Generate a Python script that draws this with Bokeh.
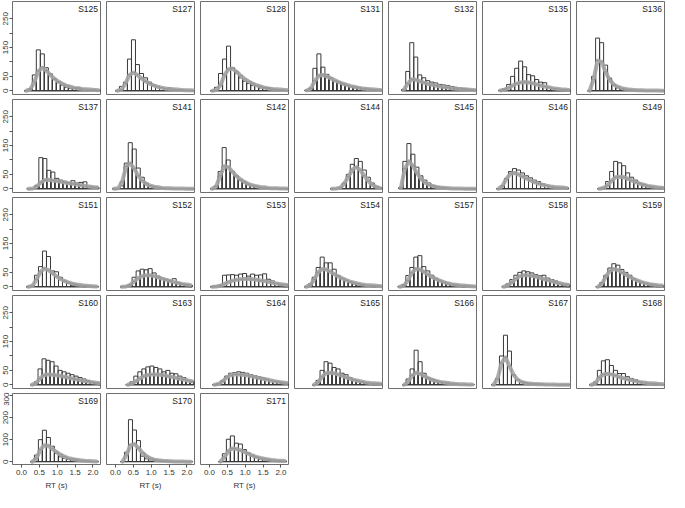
from bokeh.plotting import figure
from bokeh.layouts import gridplot
from bokeh.models import Range1d, FixedTicker, Label, NumeralTickFormatter
from bokeh.embed import file_html
from bokeh.resources import INLINE

# ---------------- data ----------------
SUBJECTS = ["S125", "S127", "S128", "S131", "S132", "S135", "S136",
            "S137", "S141", "S142", "S144", "S145", "S146", "S149",
            "S151", "S152", "S153", "S154", "S157", "S158", "S159",
            "S160", "S163", "S164", "S165", "S166", "S167", "S168",
            "S169", "S170", "S171"]

BIN_WIDTH = 0.112

STARTS = [0.08, 0.00, 0.03, 0.04, 0.12, 0.20, 0.06,
          0.15, -0.09, 0.02, 0.75, 0.04, 0.14, 0.34,
          0.14, 0.13, 0.03, 0.02, 0.01, 0.29, 0.29,
          0.24, 0.29, 0.09, 0.24, 0.13, 0.00, 0.11,
          0.25, 0.14, 0.25]

OBS_S125 = [0, 8, 55, 142, 128, 80, 59, 39, 28, 19, 12, 8, 8, 12, 6, 4, 3, 5, 2]
PRED_S125 = [0, 5, 30, 68, 80, 70, 55, 42, 32, 24, 18, 14, 10, 8, 6, 5, 4, 3, 2]
OBS_S127 = [0, 15, 30, 110, 177, 91, 60, 45, 30, 20, 15, 10, 8, 10, 5, 4, 3, 2, 1, 0]
PRED_S127 = [0, 4, 25, 55, 63, 55, 43, 33, 25, 19, 14, 11, 8, 6, 5, 4, 3, 2, 2, 1]
OBS_S128 = [0, 12, 60, 110, 155, 80, 62, 45, 33, 25, 18, 17, 10, 8, 11, 5, 3, 2, 1, 0]
PRED_S128 = [0, 3, 20, 55, 75, 77, 66, 53, 41, 32, 25, 19, 15, 11, 8, 6, 5, 4, 3, 2]
OBS_S131 = [3, 10, 78, 128, 82, 57, 45, 35, 28, 22, 18, 14, 10, 12, 8, 9, 5, 3, 2, 1]
PRED_S131 = [1, 8, 35, 52, 55, 50, 43, 36, 30, 25, 20, 16, 13, 10, 8, 6, 5, 4, 3, 2]
OBS_S132 = [5, 67, 167, 117, 55, 45, 35, 30, 27, 22, 20, 18, 15, 12, 10, 8, 6, 3, 2]
PRED_S132 = [3, 25, 40, 38, 33, 28, 24, 21, 18, 15, 13, 11, 9, 7, 6, 5, 4, 3, 2]
OBS_S135 = [2, 8, 22, 50, 78, 103, 83, 56, 52, 39, 30, 28, 0, 0, 0, 0, 0, 0]
PRED_S135 = [1, 4, 10, 18, 25, 29, 30, 29, 26, 22, 18, 15, 12, 9, 7, 5, 4, 3]
OBS_S136 = [0, 50, 183, 167, 89, 44, 20, 10, 5, 3, 2, 1, 0, 0, 0, 0, 0, 0, 0, 0]
PRED_S136 = [0, 40, 105, 100, 65, 38, 22, 14, 9, 6, 4, 3, 2, 2, 1, 1, 1, 1, 0, 0]

OBS_S137 = [0, 0, 12, 108, 105, 64, 58, 36, 30, 26, 22, 28, 20, 22, 24, 8, 5, 2]
PRED_S137 = [0, 1, 8, 22, 30, 31, 29, 27, 24, 22, 19, 17, 15, 12, 10, 8, 6, 5]
OBS_S141 = [0, 0, 10, 89, 160, 138, 72, 40, 20, 10, 6, 3, 2, 1, 0, 0, 0, 0, 0, 0, 0]
PRED_S141 = [0, 2, 25, 78, 88, 70, 45, 28, 17, 11, 7, 5, 3, 2, 2, 1, 1, 1, 0, 0, 0]
OBS_S142 = [0, 10, 60, 143, 100, 60, 45, 30, 22, 15, 10, 8, 5, 3, 2, 1, 0, 0, 0, 0]
PRED_S142 = [0, 8, 45, 78, 75, 60, 45, 33, 24, 17, 12, 9, 6, 5, 3, 2, 2, 1, 1, 0]
OBS_S144 = [0, 0, 5, 20, 50, 85, 105, 95, 65, 40, 20, 8, 3]
PRED_S144 = [0, 1, 4, 18, 42, 66, 75, 65, 45, 27, 14, 6, 2]
OBS_S145 = [5, 95, 157, 120, 75, 45, 30, 20, 12, 8, 5, 3, 2, 1, 0, 0, 0, 0, 0, 0]
PRED_S145 = [3, 70, 95, 80, 55, 35, 22, 14, 9, 6, 4, 3, 2, 1, 1, 1, 0, 0, 0, 0]
OBS_S146 = [0, 10, 35, 60, 70, 65, 55, 45, 38, 30, 25, 18, 12, 8, 5, 3, 2, 0]
PRED_S146 = [0, 10, 35, 52, 55, 50, 43, 36, 29, 23, 18, 14, 11, 8, 6, 5, 4, 3]
OBS_S149 = [0, 5, 25, 60, 95, 90, 80, 55, 40, 30, 20, 15, 10, 5, 2, 0, 0]
PRED_S149 = [0, 3, 12, 28, 40, 42, 40, 35, 29, 23, 18, 14, 10, 8, 6, 4, 3]

OBS_S151 = [0, 5, 40, 70, 124, 105, 55, 52, 33, 20, 12, 5, 3, 2, 0, 0, 0, 0]
PRED_S151 = [0, 3, 25, 52, 63, 58, 47, 36, 27, 20, 15, 11, 8, 6, 4, 3, 2, 1]
OBS_S152 = [0, 2, 8, 33, 55, 61, 59, 63, 48, 37, 30, 26, 21, 28, 14, 8, 3, 0]
PRED_S152 = [0, 1, 6, 18, 30, 37, 40, 40, 37, 33, 28, 24, 20, 16, 13, 10, 8, 6]
OBS_S153 = [0, 3, 6, 40, 41, 42, 40, 44, 46, 37, 44, 40, 41, 45, 26, 20, 12, 3, 0, 0]
PRED_S153 = [0, 1, 4, 10, 16, 21, 24, 26, 27, 27, 26, 24, 22, 20, 17, 14, 11, 9, 7, 5]
OBS_S154 = [0, 10, 33, 67, 103, 83, 83, 61, 39, 30, 22, 15, 10, 6, 4, 2, 1, 0, 0, 0]
PRED_S154 = [0, 5, 25, 50, 62, 60, 53, 44, 36, 29, 23, 18, 14, 11, 8, 6, 5, 4, 3, 2]
OBS_S157 = [0, 8, 39, 67, 103, 108, 70, 55, 40, 30, 22, 15, 10, 6, 3, 2, 0, 0, 0, 0]
PRED_S157 = [0, 4, 22, 48, 62, 60, 52, 43, 34, 27, 21, 16, 12, 9, 7, 5, 4, 3, 2, 1]
OBS_S158 = [0, 10, 25, 40, 50, 55, 52, 48, 42, 38, 40, 30, 25, 20, 10, 5, 0]
PRED_S158 = [0, 5, 15, 28, 37, 40, 40, 38, 35, 31, 27, 23, 19, 15, 12, 9, 7]
OBS_S159 = [0, 15, 40, 65, 80, 75, 60, 50, 40, 28, 20, 15, 10, 5, 2, 0, 0]
PRED_S159 = [0, 10, 35, 55, 62, 58, 50, 42, 34, 27, 21, 16, 12, 9, 7, 5, 4]

OBS_S160 = [0, 10, 55, 90, 85, 80, 65, 50, 45, 40, 35, 30, 25, 20, 15, 10, 5, 0]
PRED_S160 = [0, 5, 22, 33, 36, 35, 33, 31, 28, 25, 22, 19, 16, 13, 11, 9, 7, 5]
OBS_S163 = [0, 10, 30, 45, 55, 62, 65, 60, 55, 45, 50, 40, 38, 30, 25, 15, 8]
PRED_S163 = [0, 4, 12, 22, 30, 34, 36, 36, 35, 33, 30, 27, 24, 21, 18, 15, 12]
OBS_S164 = [0, 5, 15, 30, 40, 42, 45, 43, 40, 35, 32, 28, 25, 20, 15, 10, 8, 5, 2]
PRED_S164 = [0, 3, 12, 25, 33, 36, 36, 35, 33, 30, 27, 24, 21, 18, 15, 12, 10, 8, 6]
OBS_S165 = [0, 15, 50, 80, 75, 60, 55, 40, 35, 25, 18, 12, 8, 5, 3, 0, 0, 0]
PRED_S165 = [0, 8, 28, 40, 42, 40, 36, 31, 26, 21, 17, 14, 11, 8, 6, 5, 4, 3]
OBS_S166 = [0, 20, 55, 120, 80, 40, 25, 20, 15, 10, 8, 5, 3, 2, 1, 0, 0, 0]
PRED_S166 = [0, 10, 32, 42, 38, 30, 23, 17, 13, 10, 8, 6, 4, 3, 2, 2, 1, 1]
OBS_S167 = [0, 22, 100, 172, 117, 33, 17, 10, 8, 5, 4, 5, 3, 2, 1, 0, 0, 0, 0, 0]
PRED_S167 = [0, 20, 75, 95, 65, 35, 18, 10, 6, 4, 3, 2, 2, 1, 1, 1, 0, 0, 0, 0]
OBS_S168 = [0, 10, 50, 83, 87, 67, 50, 39, 39, 28, 22, 18, 11, 8, 5, 2, 0, 0, 0]
PRED_S168 = [0, 5, 25, 36, 38, 36, 32, 27, 23, 19, 16, 13, 10, 8, 6, 5, 4, 3, 2]

OBS_S169 = [0, 30, 100, 143, 110, 70, 37, 22, 15, 10, 8, 5, 3, 2, 0, 0, 0]
PRED_S169 = [0, 15, 55, 75, 72, 58, 44, 32, 23, 16, 12, 9, 6, 4, 3, 2, 1]
OBS_S170 = [0, 43, 191, 144, 96, 25, 13, 8, 5, 3, 2, 0, 0, 0, 0, 0, 0, 0]
PRED_S170 = [0, 30, 75, 80, 62, 40, 25, 15, 9, 6, 4, 3, 2, 1, 1, 1, 0, 0]
OBS_S171 = [0, 36, 102, 117, 84, 80, 55, 40, 25, 18, 12, 8, 5, 3, 2, 0, 0]
PRED_S171 = [0, 20, 48, 60, 58, 52, 44, 36, 28, 22, 17, 13, 10, 7, 5, 4, 3]

OBS = [OBS_S125, OBS_S127, OBS_S128, OBS_S131, OBS_S132, OBS_S135, OBS_S136,
       OBS_S137, OBS_S141, OBS_S142, OBS_S144, OBS_S145, OBS_S146, OBS_S149,
       OBS_S151, OBS_S152, OBS_S153, OBS_S154, OBS_S157, OBS_S158, OBS_S159,
       OBS_S160, OBS_S163, OBS_S164, OBS_S165, OBS_S166, OBS_S167, OBS_S168,
       OBS_S169, OBS_S170, OBS_S171]
PRED = [PRED_S125, PRED_S127, PRED_S128, PRED_S131, PRED_S132, PRED_S135, PRED_S136,
        PRED_S137, PRED_S141, PRED_S142, PRED_S144, PRED_S145, PRED_S146, PRED_S149,
        PRED_S151, PRED_S152, PRED_S153, PRED_S154, PRED_S157, PRED_S158, PRED_S159,
        PRED_S160, PRED_S163, PRED_S164, PRED_S165, PRED_S166, PRED_S167, PRED_S168,
        PRED_S169, PRED_S170, PRED_S171]

X_TICKS = [0.0, 0.5, 1.0, 1.5, 2.0]
Y_TICKS = [0, 50, 100, 150, 200, 250]
Y_TICKS_LAST = [0, 100, 200, 300]

# ---------------- style ----------------
FONT = "Liberation Sans"
X_RANGE = (-0.25, 2.21)
Y_RANGE = (-13, 310)
NCOL = 7
NROW = 5
FW, FH, FH_LAST = 88, 93, 71
BOX = "#6e6e6e"


def make_panel(i):
    r, c = divmod(i, NCOL)
    last_row = (r == NROW - 1)
    first_col = (c == 0)
    p = figure(frame_width=FW, frame_height=FH_LAST if last_row else FH,
               x_range=Range1d(*X_RANGE), y_range=Range1d(*Y_RANGE),
               x_axis_location="below" if last_row else None,
               y_axis_location="left" if first_col else None,
               output_backend="svg", toolbar_location=None,
               min_border_left=0, min_border_right=6 if c < NCOL - 1 else 1,
               min_border_top=1, min_border_bottom=0 if last_row else 4,
               outline_line_color=BOX, outline_line_width=1,
               background_fill_color="white", border_fill_color="white")
    p.grid.visible = False

    start, obs, pred = STARTS[i], OBS[i], PRED[i]
    lefts = [start + k * BIN_WIDTH for k in range(len(obs))]
    rights = [l + BIN_WIDTH for l in lefts]
    centers = [l + BIN_WIDTH / 2 for l in lefts]

    p.quad(left=lefts, right=rights, bottom=0, top=pred,
           fill_color=None, line_color="#111111", line_width=1)
    p.quad(left=lefts, right=rights, bottom=0, top=obs,
           fill_color=None, line_color="#3a3a3a", line_width=1)
    p.line(centers, pred, line_color="#a4a4a4", line_width=4, line_alpha=0.9,
           line_join="round", line_cap="round")

    p.add_layout(Label(x=X_RANGE[1] - 0.07, y=Y_RANGE[1] - 10, text=SUBJECTS[i],
                       text_align="right", text_baseline="top",
                       text_font=FONT, text_font_size="8.5px", text_color="#222222"))

    for ax in (p.xaxis + p.yaxis):
        ax.axis_line_color = None
        ax.major_tick_line_color = "#555555"
        ax.major_tick_out = 3
        ax.major_tick_in = 0
        ax.minor_tick_line_color = None
        ax.major_label_text_font = FONT
        ax.major_label_text_font_size = "8px"
        ax.major_label_text_color = "#333333"
        ax.major_label_standoff = 1

    if first_col:
        yax = p.yaxis[0]
        if last_row:
            yax.ticker = FixedTicker(ticks=Y_TICKS_LAST)
        else:
            yax.ticker = FixedTicker(ticks=Y_TICKS)
            yax.major_label_overrides = {100: "", 200: ""}
        yax.major_label_orientation = "vertical"
    if last_row:
        xax = p.xaxis[0]
        xax.ticker = FixedTicker(ticks=X_TICKS)
        xax.formatter = NumeralTickFormatter(format="0.0")
        xax.axis_label = "RT (s)"
        xax.axis_label_text_font = FONT
        xax.axis_label_text_font_size = "8px"
        xax.axis_label_text_font_style = "normal"
        xax.axis_label_text_color = "#333333"
        xax.axis_label_standoff = 3
        xax.major_label_standoff = 2
    return p


panels = [make_panel(i) for i in range(len(SUBJECTS))]
rows = []
for r in range(NROW):
    row = panels[r * NCOL:(r + 1) * NCOL]
    row = row + [None] * (NCOL - len(row))
    rows.append(row)

grid = gridplot(rows, toolbar_location=None)

with open("out.html", "w") as f:
    f.write(file_html(grid, INLINE))
